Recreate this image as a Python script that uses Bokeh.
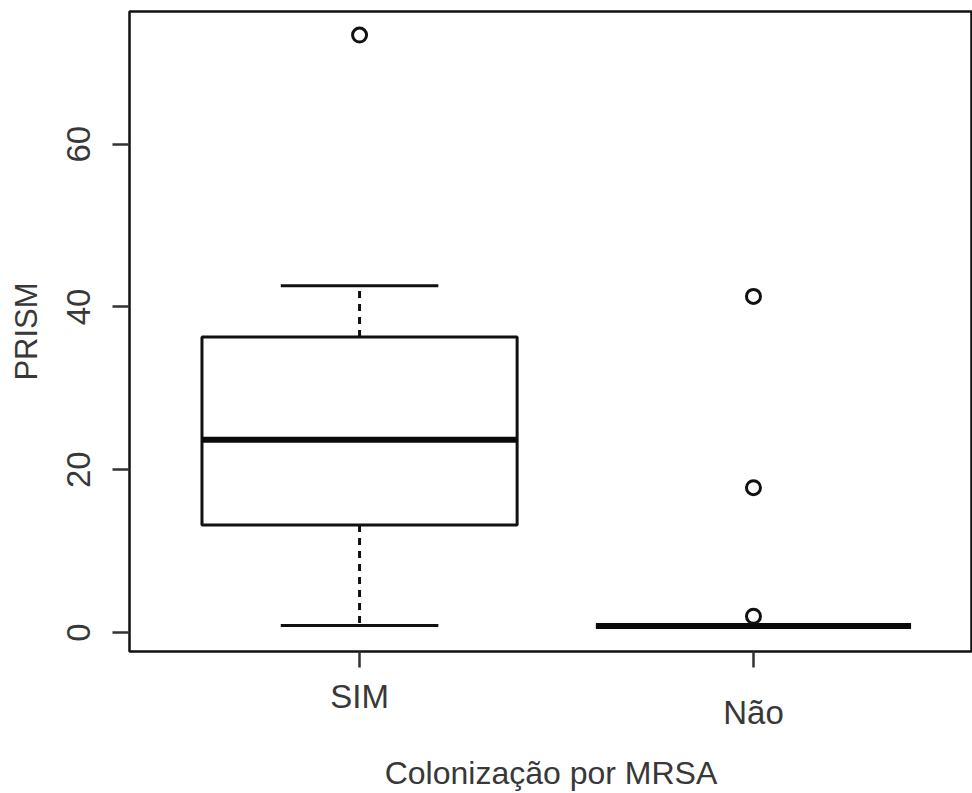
from bokeh.plotting import figure
from bokeh.models import Range1d, FixedTicker, LinearAxis
from bokeh.embed import file_html
from bokeh.resources import INLINE

# ---- data ----
categories = ["SIM", "Não"]
positions = [1, 2]
q1 = [13.2, 0.8]
median = [23.7, 0.8]
q3 = [36.3, 0.8]
whisker_low = [0.85, 0.8]
whisker_high = [42.6, 0.8]
outlier_group = [1, 2, 2, 2]
outlier_value = [73.4, 41.3, 17.8, 2.0]
y_ticks = [0, 20, 40, 60]
x_title = "Colonização por MRSA"
y_title = "PRISM"

FONT = "Liberation Sans"
TXT = "#383838"

y0, y1 = -2.33, 76.3
p = figure(width=972, height=793, output_backend="svg", toolbar_location=None,
           x_range=Range1d(0.416, 2.556), y_range=Range1d(y0, y1),
           min_border_left=129, min_border_right=0, min_border_top=11, min_border_bottom=141)
p.background_fill_color = "white"
p.border_fill_color = "white"
p.outline_line_color = "#111111"
p.outline_line_width = 2.5
p.xgrid.visible = False
p.ygrid.visible = False

# y axis
ya = p.yaxis[0]
ya.ticker = FixedTicker(ticks=y_ticks)
ya.axis_line_color = None
ya.major_tick_in = 0
ya.major_tick_out = 17
ya.major_tick_line_width = 2.5
ya.major_tick_line_color = "#333333"
ya.minor_tick_line_color = None
ya.major_label_orientation = "vertical"
ya.major_label_text_font = FONT
ya.major_label_text_font_size = "33px"
ya.major_label_text_color = TXT
ya.major_label_standoff = 22
ya.axis_label = y_title
ya.axis_label_text_font = FONT
ya.axis_label_text_font_size = "31px"
ya.axis_label_text_font_style = "normal"
ya.axis_label_text_color = TXT
ya.axis_label_standoff = 21

# x axis 1: both ticks, first category label
xa = p.xaxis[0]
xa.ticker = FixedTicker(ticks=positions)
xa.axis_line_color = None
xa.major_tick_in = 0
xa.major_tick_out = 16
xa.major_tick_line_width = 2.5
xa.major_tick_line_color = "#333333"
xa.minor_tick_line_color = None
xa.major_label_overrides = {positions[0]: categories[0], positions[1]: ""}
xa.major_label_text_font = FONT
xa.major_label_text_font_size = "33px"
xa.major_label_text_color = TXT
xa.major_label_standoff = 10

# x axis 2 (further below): second category label, set a little lower, plus axis title
xb = LinearAxis(ticker=FixedTicker(ticks=[positions[1]]))
xb.axis_line_color = None
xb.major_tick_in = 0
xb.major_tick_out = 0
xb.major_tick_line_color = None
xb.minor_tick_line_color = None
xb.major_label_overrides = {positions[1]: categories[1]}
xb.major_label_text_font = FONT
xb.major_label_text_font_size = "33px"
xb.major_label_text_color = TXT
xb.major_label_standoff = -24
xb.axis_label = x_title
xb.axis_label_text_font = FONT
xb.axis_label_text_font_size = "32px"
xb.axis_label_text_font_style = "normal"
xb.axis_label_text_color = TXT
xb.axis_label_standoff = 21
p.add_layout(xb, "below")

half = 0.4
cap = 0.2
xs = positions
# whiskers (dashed)
p.segment(x0=xs, y0=q3, x1=xs, y1=whisker_high, line_color="#111111", line_width=3, line_dash="7 6")
p.segment(x0=xs, y0=q1, x1=xs, y1=whisker_low, line_color="#111111", line_width=3, line_dash="7 6")
# caps
p.segment(x0=[x - cap for x in xs], y0=whisker_high, x1=[x + cap for x in xs], y1=whisker_high,
          line_color="#111111", line_width=3)
p.segment(x0=[x - cap for x in xs], y0=whisker_low, x1=[x + cap for x in xs], y1=whisker_low,
          line_color="#111111", line_width=3)
# boxes
p.quad(left=[x - half for x in xs], right=[x + half for x in xs], bottom=q1, top=q3,
       fill_color="white", line_color="#111111", line_width=3)
# medians
p.segment(x0=[x - half for x in xs], y0=median, x1=[x + half for x in xs], y1=median,
          line_color="#0a0a0a", line_width=6)
# outliers
p.scatter(x=outlier_group, y=outlier_value, marker="circle", size=14, fill_color="white",
          line_color="#111111", line_width=3)

open("out.html", "w").write(file_html(p, INLINE))
